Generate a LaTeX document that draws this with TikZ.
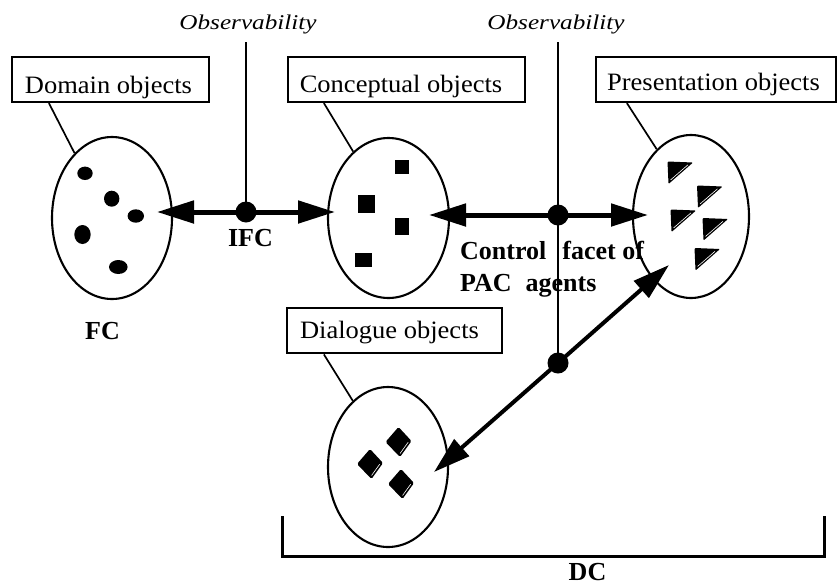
\documentclass[tikz,border=0pt]{standalone}
\usepackage{fontspec}
\setmainfont{Liberation Serif}
\usepackage{graphicx}
\usetikzlibrary{arrows.meta,shapes.geometric,calc}

\newcommand\txtplain{\fontsize{25}{30}\selectfont}
\newcommand\txtbold{\fontsize{26}{30}\selectfont\bfseries}
\newcommand\txtobs{\fontsize{21}{25}\selectfont\itshape}
\newcommand\wide[2][1.06]{\scalebox{#1}[1]{#2}}

\tikzset{
  objbox/.style={draw, line width=2.2pt, rectangle, minimum height=45pt,
    inner sep=0pt, text depth=0pt, font=\txtplain},
  blob/.style={draw, ellipse, line width=2.1pt, inner sep=0pt},
  leader/.style={line width=1.7pt},
  obsline/.style={line width=2pt},
  hub/.style={circle, fill=black, minimum size=21pt, inner sep=0pt},
  flow/.style={line width=5pt, -{Triangle[length=37pt,width=22pt]}},
  diagflow/.style={line width=4pt, -{Triangle[length=37pt,width=22pt]}},
  boldlbl/.style={font=\txtbold, inner sep=0pt},
  obslbl/.style={font=\txtobs, inner sep=0pt},
  bracket/.style={line width=3pt},
  wedge/.pic={
    \fill[rounded corners=1pt] (0,0) -- (25.5,1) -- (1,22.5) -- cycle;
    \draw[white, line width=0.6pt] (3,18.5) -- (20.5,3.3);
  },
  gem/.pic={
    \fill[rounded corners=1.5pt] (0,-15) -- (13,-1) -- (1.5,15) -- (-13,0) -- cycle;
    \draw[white, line width=0.6pt] (9.7,0.2) -- (1.6,11.4);
  }
}

\begin{document}
\begin{tikzpicture}[x=1pt,y=-1pt]
\useasboundingbox (0,0) rectangle (838,584);

% ---- labelled boxes ----
\node[objbox, minimum width=197pt, text height=27pt] (dombox) at (110.5,79.5) {\wide{Domain objects}\kern4pt};
\node[objbox, minimum width=237pt, text height=25pt] (conbox) at (406.5,79.5) {\wide{Conceptual objects}\kern11pt};
\node[objbox, minimum width=240pt, text height=22pt] (prebox) at (716,79.5) {\wide{Presentation objects}\kern5pt};
\node[objbox, minimum width=215pt, text height=16pt] (dlgbox) at (394.5,330.8) {\wide{Dialogue objects}\kern10pt};

% ---- object sets ----
\node[blob, minimum width=120pt, minimum height=162pt] (domell) at (112,218) {};
\node[blob, minimum width=121pt, minimum height=160pt] (conell) at (388.5,218) {};
\node[blob, minimum width=116pt, minimum height=163pt] (preell) at (691,216.5) {};
\node[blob, minimum width=120pt, minimum height=160pt] (dlgell) at (388,467) {};

% leaders from boxes to sets
\draw[leader] ($(dombox.south west)+(38,0)$) -- (domell.120);
\draw[leader] ($(conbox.south west)+(37,0)$) -- (conell.118);
\draw[leader] ($(prebox.south west)+(32,0)$) -- (preell.117);
\draw[leader] ($(dlgbox.south west)+(38,0)$) -- (dlgell.118);

% domain objects: dots
\fill (85,173.3) ellipse [x radius=7.7, y radius=6.7];
\fill (111.7,198.7) ellipse [x radius=7.7, y radius=8];
\fill (135.8,216) ellipse [x radius=8.2, y radius=6.7];
\fill (82.5,234.5) ellipse [x radius=8.2, y radius=9.5];
\fill (118.3,267) ellipse [x radius=9.3, y radius=7];

% conceptual objects: squares
\fill (395,160) rectangle (409,174);
\fill (358,195) rectangle (375,213);
\fill (395,218) rectangle (409,235);
\fill (355,253) rectangle (372,267);

% presentation objects: wedges
\pic at (667.5,161.5) {wedge};
\pic at (697,185.5) {wedge};
\pic at (670.5,209.5) {wedge};
\pic at (702.5,218) {wedge};
\pic at (694.5,248) {wedge};

% dialogue objects: gems
\pic at (398.5,442) {gem};
\pic at (370,464) {gem};
\pic at (401,484) {gem};

% ---- junctions and flows ----
\node[hub] (ifc) at (246,212) {};
\node[hub] (pac) at (558,215) {};
\node[hub] (dlgj) at (558,363) {};

\coordinate (ifcL) at (157,212);
\coordinate (ifcR) at (335,212);
\coordinate (pacL) at (429,215);
\coordinate (pacR) at (648,215);
\coordinate (dlgU) at (669,265);
\coordinate (dlgD) at (434,472);
\coordinate (obsA) at (246,42);
\coordinate (obsB) at (558,42);

\draw[flow] (ifc.center) -- (ifcL);
\draw[flow] (ifc.center) -- (ifcR);
\draw[flow] (pac.center) -- (pacL);
\draw[flow] (pac.center) -- (pacR);
\draw[diagflow] (dlgj.center) -- (dlgU);
\draw[diagflow] (dlgj.center) -- (dlgD);

\draw[obsline] (obsA) -- (ifc.center);
\draw[obsline] (obsB) -- (pac.center) -- (dlgj.center);

% ---- labels ----
\node[obslbl, anchor=base] (obs1) at (248,29) {\wide[1.2]{Observability}};
\node[obslbl, anchor=base] (obs2) at (556,29) {\wide[1.2]{Observability}};
\node[boldlbl, anchor=base] (ifclbl) at (250.5,246) {IFC};
\node[boldlbl, anchor=base] (fclbl) at (102.5,339.3) {FC};
\node[boldlbl, anchor=base west] (ctl1) at (460,259.3) {Control\hspace{9.5pt} facet of};
\node[boldlbl, anchor=base west] (ctl2) at (460,291) {PAC\hspace{7.5pt} agents};
\node[boldlbl, anchor=base] (dclbl) at (587.5,580) {DC};

% ---- bracket under the dialogue side ----
\draw[bracket] (282,516) -- (282,556) -- (824,556) -- (824,516);
\end{tikzpicture}
\end{document}
